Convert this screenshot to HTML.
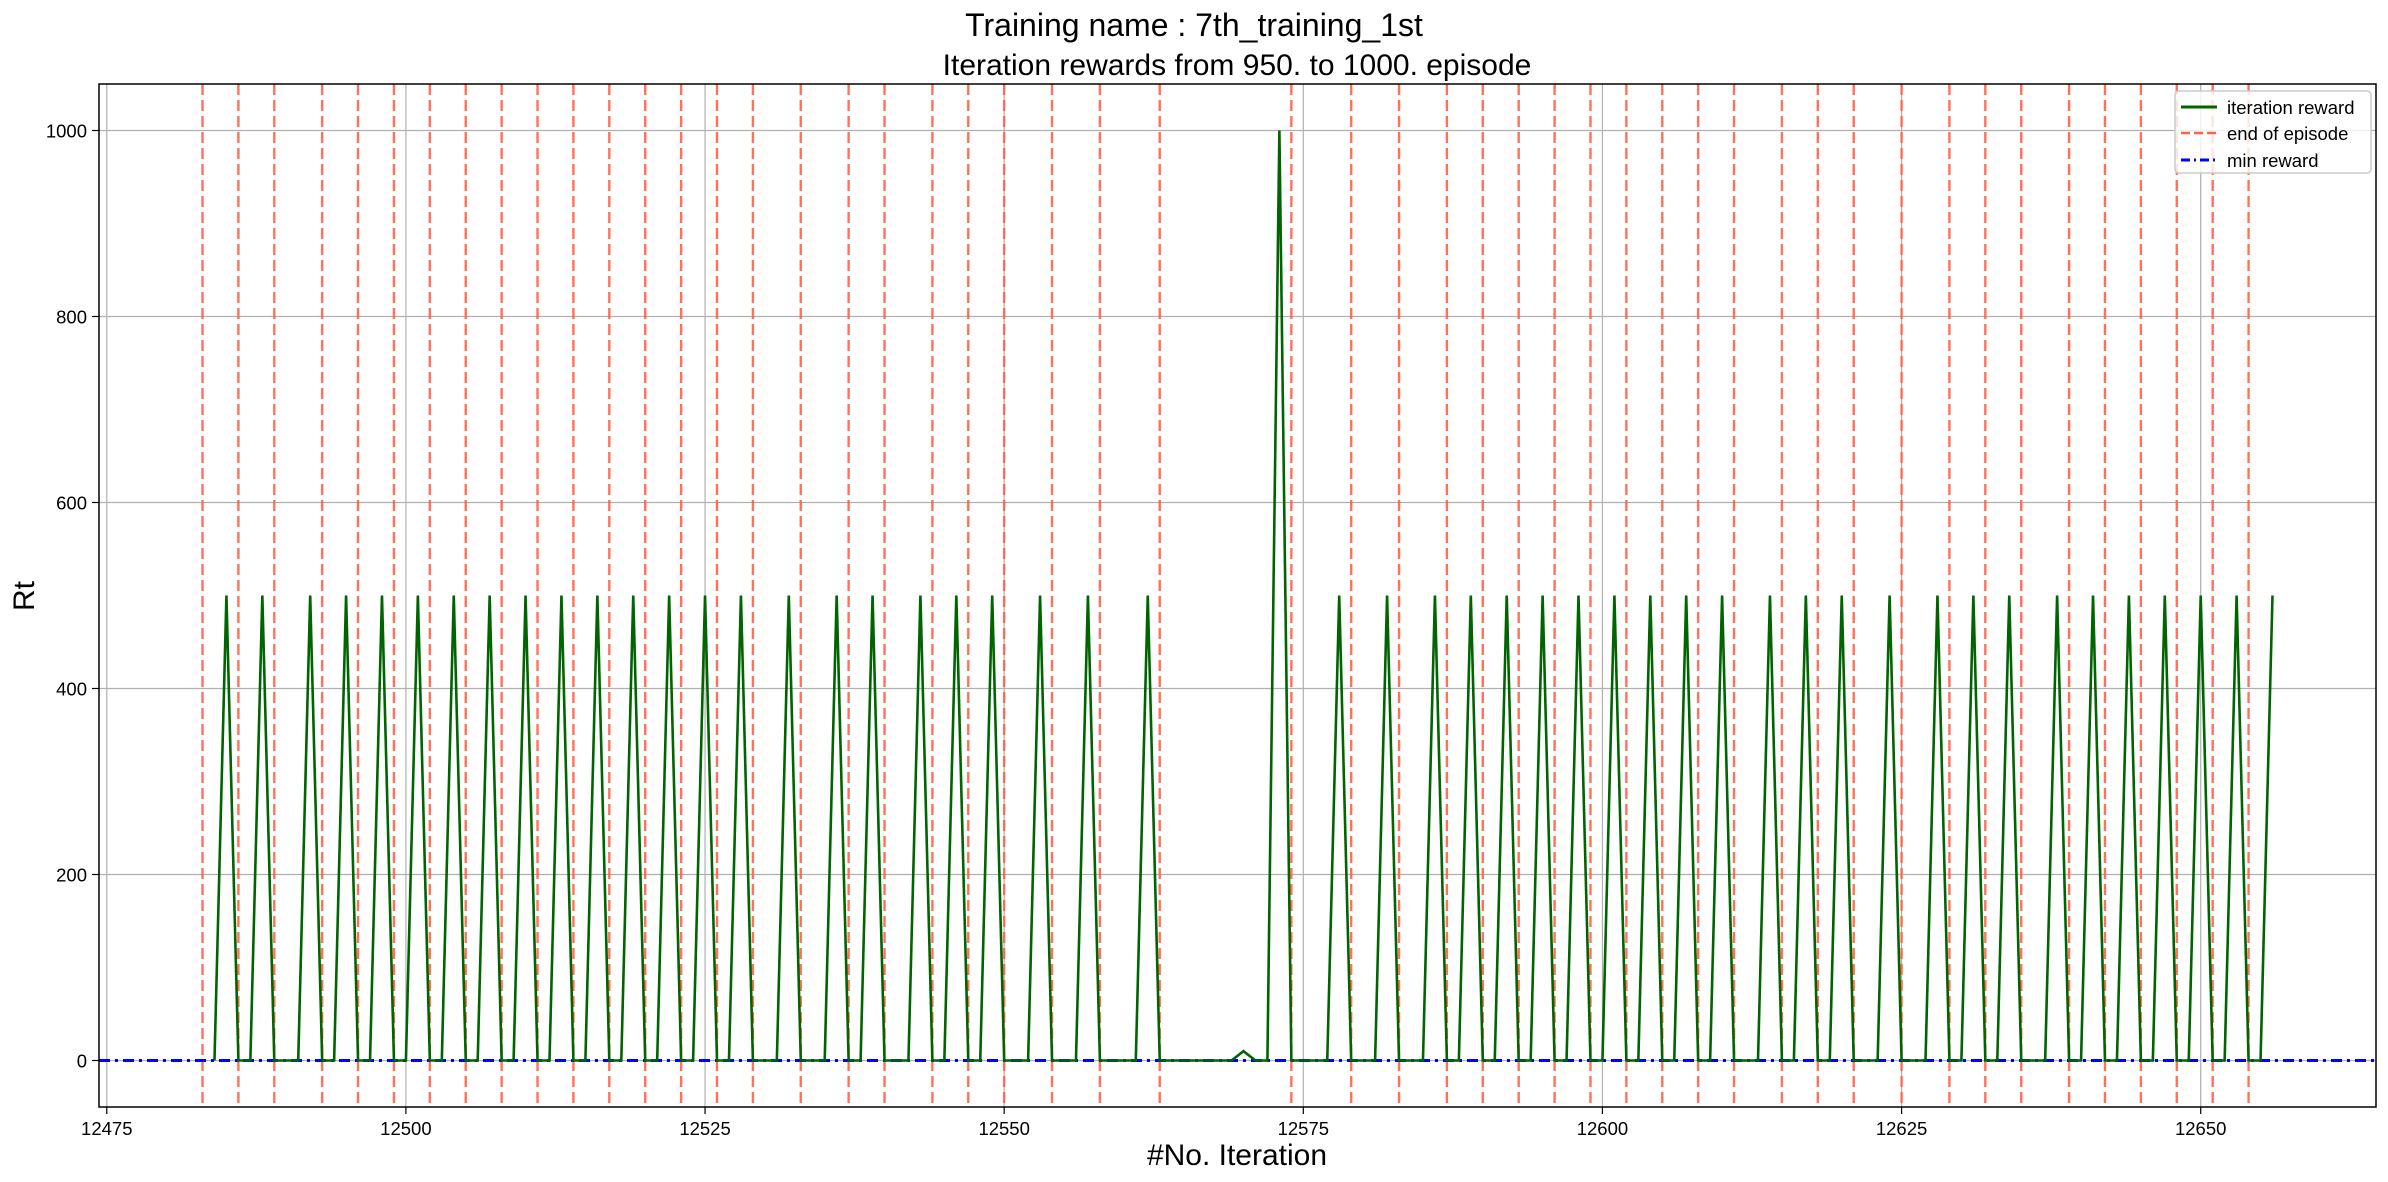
<!DOCTYPE html>
<html><head><meta charset="utf-8">
<style>
html,body{margin:0;padding:0;background:#fff;}
svg{display:block;font-family:"Liberation Sans","DejaVu Sans",sans-serif;}
</style></head>
<body>
<svg id="chart" width="2388" height="1182" viewBox="0 0 2388 1182" xmlns="http://www.w3.org/2000/svg">
<text x="1194" y="36" text-anchor="middle" font-size="32" fill="#000">Training name : 7th_training_1st</text>
<text x="1237" y="75" text-anchor="middle" font-size="30" fill="#000">Iteration rewards from 950. to 1000. episode</text>
<text x="1237" y="1165" text-anchor="middle" font-size="30" fill="#000">#No. Iteration</text>
<text x="34" y="596" text-anchor="middle" font-size="30" fill="#000" transform="rotate(-90 34 596)">Rt</text>
<g id="grid"></g>
<g id="marks"></g>
<g id="axes"></g>
<g id="legend">
<rect x="2175" y="91" width="196" height="82" rx="4" fill="#fff" fill-opacity="0.8" stroke="#ccc" stroke-width="1.5"/>
<line x1="2181" y1="107" x2="2217" y2="107" stroke="#006400" stroke-width="3"/>
<text x="2227" y="114" font-size="18.5">iteration reward</text>
<line x1="2181" y1="133" x2="2217" y2="133" stroke="#ff6347" stroke-width="2.4" stroke-dasharray="9,4"/>
<text x="2227" y="140" font-size="18.5">end of episode</text>
<line x1="2181" y1="160" x2="2217" y2="160" stroke="#0000ff" stroke-width="3" stroke-dasharray="9,4,2,4"/>
<text x="2227" y="167" font-size="18.5">min reward</text>
</g>
</svg>
<script>
const episodeEnds = [12483,12486,12489,12493,12496,12499,12502,12505,12508,12511,12514,12517,12520,12523,12526,12529,12533,12537,12540,12544,12547,12550,12554,12558,12563,12574,12579,12583,12587,12590,12593,12596,12599,12602,12605,12608,12611,12615,12618,12621,12625,12629,12632,12635,12639,12642,12645,12648,12651,12654];
const peakIters = [12485,12488,12492,12495,12498,12501,12504,12507,12510,12513,12516,12519,12522,12525,12528,12532,12536,12539,12543,12546,12549,12553,12557,12562,12570,12573,12578,12582,12586,12589,12592,12595,12598,12601,12604,12607,12610,12614,12617,12620,12624,12628,12631,12634,12638,12641,12644,12647,12650,12653,12656];
const peakValues = [500,500,500,500,500,500,500,500,500,500,500,500,500,500,500,500,500,500,500,500,500,500,500,500,10,1000,500,500,500,500,500,500,500,500,500,500,500,500,500,500,500,500,500,500,500,500,500,500,500,500,500];
const firstIter = 12484, lastIter = 12656;
const minReward = 0;
const xTicks = [12475,12500,12525,12550,12575,12600,12625,12650];
const yTicks = [0,200,400,600,800,1000];

const L=99,R=2376,T=84,B=1107;
const xMin=12474.35,xMax=12664.65,yMin=-50,yMax=1050;
const sx=v=>L+(v-xMin)/(xMax-xMin)*(R-L);
const sy=v=>B-(v-yMin)/(yMax-yMin)*(B-T);
const NS="http://www.w3.org/2000/svg";
function mk(tag,attrs,parent){const e=document.createElementNS(NS,tag);for(const k in attrs)e.setAttribute(k,attrs[k]);parent.appendChild(e);return e;}
const grid=document.getElementById('grid'),marks=document.getElementById('marks'),axes=document.getElementById('axes');

xTicks.forEach(t=>{
  const g=mk('line',{x1:sx(t),x2:sx(t),y1:T,y2:B,stroke:'#b0b0b0','stroke-width':1.2},grid);
  
  
  const tk=mk('line',{x1:sx(t),x2:sx(t),y1:B,y2:B+7,stroke:'#000','stroke-width':1.2},axes);
  
  
  const tx=mk('text',{x:sx(t),y:B+28,'text-anchor':'middle','font-size':18.5},axes);
  tx.textContent=t;
  
  
});
yTicks.forEach(t=>{
  const g=mk('line',{x1:L,x2:R,y1:sy(t),y2:sy(t),stroke:'#b0b0b0','stroke-width':1.2},grid);
  
  
  const tk=mk('line',{x1:L-7,x2:L,y1:sy(t),y2:sy(t),stroke:'#000','stroke-width':1.2},axes);
  
  
  const tx=mk('text',{x:L-12,y:sy(t)+7,'text-anchor':'end','font-size':18.5},axes);
  tx.textContent=t;
  
  
});

episodeEnds.forEach(e=>{
  const l=mk('line',{x1:sx(e),x2:sx(e),y1:T,y2:B,stroke:'#ff6347','stroke-width':2.4,'stroke-dasharray':'11,5','stroke-opacity':0.9},marks);
  
  
});

const mr=mk('line',{x1:L,x2:R,y1:sy(minReward),y2:sy(minReward),stroke:'#0000ff','stroke-width':3,'stroke-dasharray':'11,5,3,5'},marks);



const vals={};
peakIters.forEach((p,i)=>{vals[p]=peakValues[i];});
let pts=[];
for(let i=firstIter;i<=lastIter;i++){pts.push(sx(i).toFixed(2)+','+sy(vals[i]||0).toFixed(2));}
const pl=mk('polyline',{points:pts.join(' '),fill:'none',stroke:'#006400','stroke-width':2.6,'stroke-linejoin':'miter'},marks);



const frame=mk('rect',{x:L,y:T,width:R-L,height:B-T,fill:'none',stroke:'#000','stroke-width':1.5},axes);


</script>
</body></html>
